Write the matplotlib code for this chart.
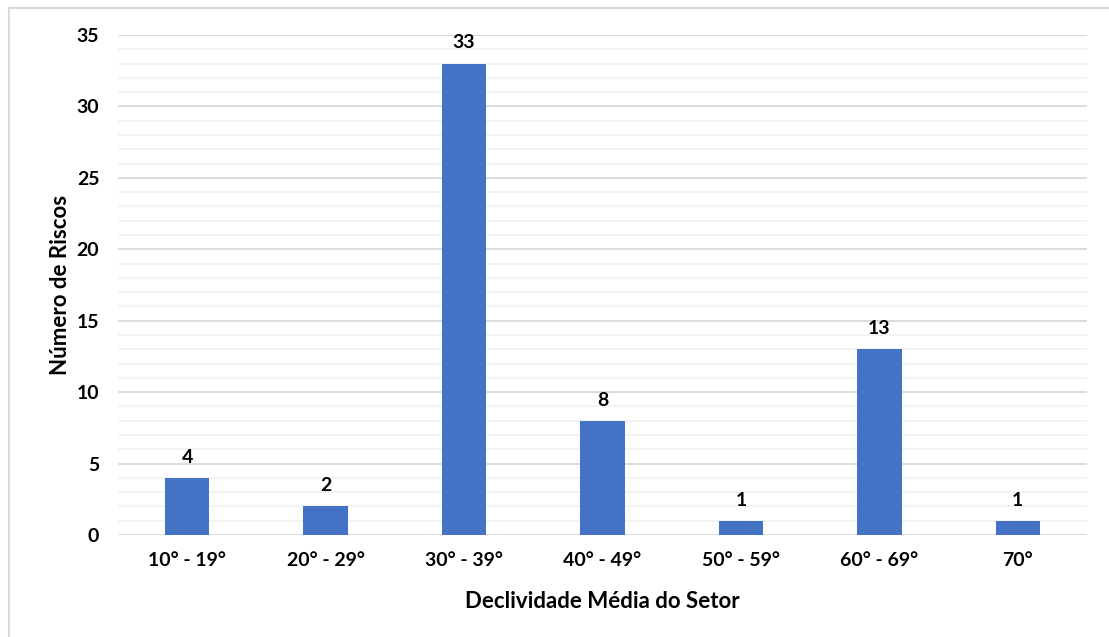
import matplotlib.pyplot as plt
from matplotlib.lines import Line2D
from matplotlib.ticker import MultipleLocator

categories = ["10° - 19°", "20° - 29°", "30° - 39°", "40° - 49°", "50° - 59°", "60° - 69°", "70°"]
riscos = [4, 2, 33, 8, 1, 13, 1]

BAR_COLOR = "#4472C4"
FONT = ["Lato", "DejaVu Sans"]

plt.rcParams["font.family"] = FONT
plt.rcParams["font.weight"] = "bold"

fig = plt.figure(figsize=(11.09, 6.37), dpi=100)
ax = fig.add_axes([118 / 1109, 1 - 535 / 637, 969 / 1109, 500 / 637])

x = range(len(categories))
bars = ax.bar(x, riscos, width=0.32, color=BAR_COLOR, zorder=3)
for b, v in zip(bars, riscos):
    ax.text(b.get_x() + b.get_width() / 2, v + 0.85, str(v), ha="center", va="bottom",
            fontsize=14, fontweight="bold", color="#000000")

ax.set_xlim(-0.5, len(categories) - 0.5)
ax.set_ylim(0, 35)
ax.yaxis.set_major_locator(MultipleLocator(5))
ax.yaxis.set_minor_locator(MultipleLocator(1))
ax.grid(which="major", axis="y", color="#D9D9D9", linewidth=1.3, zorder=0)
ax.grid(which="minor", axis="y", color="#F2F2F2", linewidth=1.3, zorder=0)
ax.set_xticks(list(x))
ax.set_xticklabels(categories)
ax.tick_params(axis="both", which="both", length=0, labelsize=14)
ax.tick_params(axis="x", pad=12)
ax.tick_params(axis="y", pad=13.5)
for lab in ax.get_xticklabels() + ax.get_yticklabels():
    lab.set_fontweight("bold")
for s in ax.spines.values():
    s.set_visible(False)

ax.set_xlabel("Declividade Média do Setor", fontsize=16, fontweight="bold", labelpad=16)
ax.set_ylabel("Número de Riscos", fontsize=16, fontweight="bold", labelpad=4)

# outer border of the chart area (only top and left visible)
fig.add_artist(Line2D([9 / 1109, 9 / 1109], [0, 1 - 8 / 637], transform=fig.transFigure,
                      color="#D9D9D9", linewidth=1.5))
fig.add_artist(Line2D([9 / 1109, 1], [1 - 8 / 637, 1 - 8 / 637], transform=fig.transFigure,
                      color="#D9D9D9", linewidth=1.5))

fig.savefig("out.png", dpi=100)
